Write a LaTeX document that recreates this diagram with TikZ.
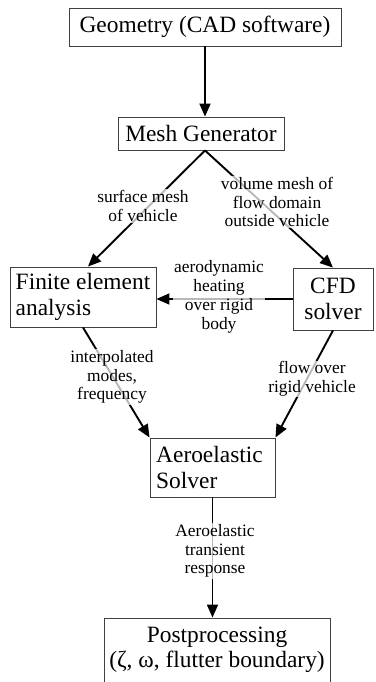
\documentclass[tikz,border=0pt]{standalone}
\usepackage{fontspec}
\setmainfont{Liberation Serif}
\usetikzlibrary{arrows.meta}
\begin{document}
\begin{tikzpicture}[x=1pt,y=-1pt,
  box/.style={draw=black!75,line width=0.9pt,inner sep=0pt,font=\fontsize{23.4}{25.5}\selectfont},
  lbl/.style={fill=white,fill opacity=0.72,text opacity=1,inner sep=1pt,align=center,font=\fontsize{17.4}{18.8}\selectfont},
  arr/.style={line width=1.9pt,-{Triangle[length=13pt,width=11pt]}}]
\useasboundingbox (0,0) rectangle (375,682);
\node[box,minimum width=272,minimum height=38] (geo) at (205,27) {Geometry (CAD software)};
\node[box,minimum width=166,minimum height=33] (mesh) at (201,133.5) {Mesh Generator};
\node[box,minimum width=146,minimum height=60,align=left] (fea) at (83,297) {Finite element\\analysis};
\node[box,minimum width=80,minimum height=62,align=center] (cfd) at (333,299) {CFD\\solver};
\node[box,minimum width=125,minimum height=59,align=left] (aero) at (212.5,467.5) {Aeroelastic\\Solver\rule{2.2em}{0pt}};
\node[box,minimum width=226,minimum height=64,align=center] (post) at (217,650) {Postprocessing\\(ζ, ω, flutter boundary)};

\draw[arr] (geo.south -| mesh.north) ++(4,0) coordinate (g1) -- (g1 |- mesh.north);
\draw[arr] ([xshift=4]mesh.south) -- ([xshift=5]fea.north);
\draw[arr] ([xshift=4]mesh.south) -- (cfd.north);
\draw[arr] (cfd.west) -- (cfd.west -| fea.east);
\draw[arr] (fea.south) -- (aero.north west);
\draw[arr] (cfd.south) -- (aero.north east);
\draw[arr] (aero.south) -- (aero.south |- post.north);

\node[lbl] (l1) at (143,206) {surface mesh\\of vehicle};
\node[lbl] (l2) at (277,202) {volume mesh of\\flow domain\\outside vehicle};
\node[lbl] (l3) at (219,297) {aerodynamic\\heating\\over rigid\\body};
\node[lbl] (l4) at (112,377) {interpolated\\modes,\\frequency};
\node[lbl] (l5) at (312,379) {flow over\\rigid vehicle};
\node[lbl] (l6) at (215,551) {Aeroelastic\\transient\\response};
\end{tikzpicture}
\end{document}
